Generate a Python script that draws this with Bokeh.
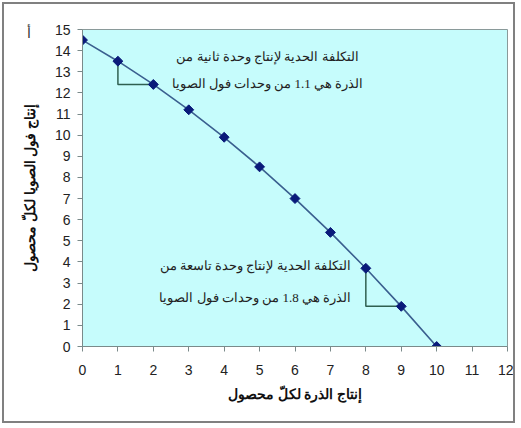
import math
from bokeh.plotting import figure
from bokeh.models import ColumnDataSource, Label, FixedTicker, Range1d, Title
from bokeh.embed import file_html
from bokeh.resources import INLINE

# data
corn = [0, 1, 2, 3, 4, 5, 6, 7, 8, 9, 10]
soy = [14.5, 13.5, 12.4, 11.2, 9.9, 8.5, 7.0, 5.4, 3.7, 1.9, 0.0]
x_ticks = list(range(0, 13))
y_ticks = list(range(0, 16))
tri1_x = [1, 1, 2]
tri1_y = [13.5, 12.4, 12.4]
tri2_x = [8, 8, 9]
tri2_y = [3.7, 1.9, 1.9]
note1 = ["التكلفة الحدية لإنتاج وحدة ثانية من", "الذرة هي 1.1 من وحدات فول الصويا"]
note2 = ["التكلفة الحدية لإنتاج وحدة تاسعة من", "الذرة هي 1.8 من وحدات فول الصويا"]
x_title = "إنتاج الذرة لكلّ محصول"
y_title = "إنتاج فول الصويا لكلّ محصول"
point_label = "أ"

p = figure(width=513, height=421, output_backend="svg", toolbar_location=None,
           x_range=Range1d(0, 12), y_range=Range1d(0, 15),
           min_border_left=78, min_border_right=10, min_border_top=25, min_border_bottom=79)
p.styles = {"border": "2px solid #808080", "margin": "2px 0 0 2px"}
p.background_fill_color = "#c6fcfc"
p.border_fill_color = "white"
p.outline_line_color = "#8a9a9a"
p.outline_line_width = 1
p.grid.visible = False

for ax in (p.xaxis[0], p.yaxis[0]):
    ax.major_label_text_font = "Liberation Sans"
    ax.major_label_text_font_size = "14px"
    ax.major_label_text_color = "#222222"
    ax.axis_line_color = "#7a8a8a"
    ax.major_tick_line_color = "#7a8a8a"
    ax.major_tick_out = 5
    ax.major_tick_in = 0
    ax.minor_tick_out = 0
    ax.minor_tick_in = 0
    ax.axis_label_text_font = "Liberation Sans"
    ax.axis_label_text_font_size = "14px"
    ax.axis_label_text_font_style = "bold"
    ax.axis_label_text_color = "#111111"

p.xaxis.ticker = FixedTicker(ticks=x_ticks)
p.yaxis.ticker = FixedTicker(ticks=y_ticks)
p.xaxis.axis_label = x_title
p.yaxis.axis_label = y_title
p.xaxis.major_label_standoff = 13
p.yaxis.major_label_standoff = 7
p.xaxis.axis_label_standoff = 8
p.yaxis.axis_label_standoff = 14

src = ColumnDataSource(dict(x=corn, y=soy))
p.line("x", "y", source=src, line_color="#3a5f8f", line_width=1.6)
p.line(tri1_x, tri1_y, line_color="#2f5f50", line_width=1.5)
p.line(tri2_x, tri2_y, line_color="#2f5f50", line_width=1.5)
p.scatter("x", "y", source=src, marker="square", size=7, angle=math.pi / 4,
          fill_color="#0a1a7a", line_color="#0a1a7a")

for i, t in enumerate(note1):
    p.add_layout(Label(x=5.22, y=[13.72, 12.45][i], text=t, text_align="center",
                       text_baseline="middle", text_font="Liberation Serif",
                       text_font_size="13px", text_color="#222222"))
for i, t in enumerate(note2):
    p.add_layout(Label(x=4.88, y=[3.83, 2.32][i], text=t, text_align="center",
                       text_baseline="middle", text_font="Liberation Serif",
                       text_font_size="13px", text_color="#222222"))

p.add_layout(Title(text=point_label, align="left", offset=-56, standoff=-22,
                   text_font="Liberation Sans", text_font_size="14px",
                   text_font_style="normal", text_color="#333333"), "above")

open("out.html", "w").write(file_html(p, INLINE))
